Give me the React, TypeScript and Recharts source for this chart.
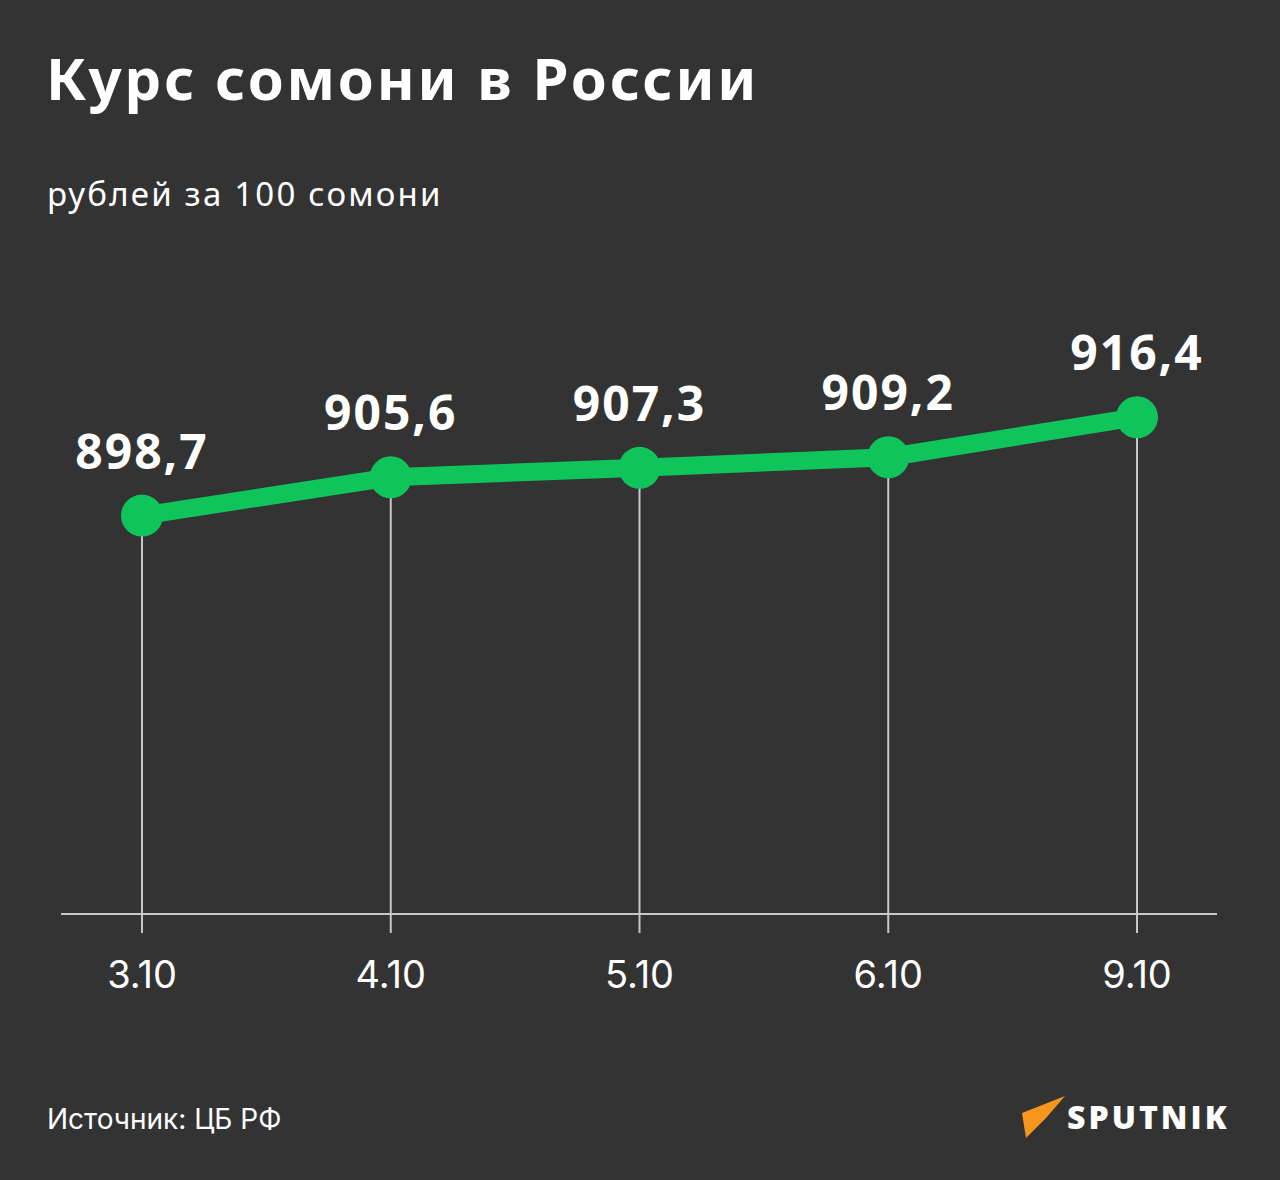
import React from "react";
import { LineChart, Line, XAxis, YAxis, LabelList } from "recharts";

const dates = ["3.10", "4.10", "5.10", "6.10", "9.10"];
const rates = [898.7, 905.6, 907.3, 909.2, 916.4];

const data = dates.map((date, i) => ({ date, rate: rates[i] }));

const BG = "#333333";
const GREEN = "#10c45c";
const GRID = "#c8c8c8";

const W = 1280;
const H = 1180;
const TOP = 340;
const AXIS_Y = 914;
const X_AXIS_H = 60;

const fmt = (v: number) => v.toFixed(1).replace(".", ",");

const Dot = (props: any) => {
  const { cx, cy, index } = props;
  if (cx == null || cy == null) return null;
  return (
    <g key={`dot-${index}`}>
      <line x1={cx} y1={cy} x2={cx} y2={AXIS_Y} stroke={GRID} strokeWidth={2} />
      <circle cx={cx} cy={cy} r={21} fill={GREEN} />
    </g>
  );
};

const ValueLabel = (props: any) => {
  const { x, y, value } = props;
  return (
    <text
      x={x}
      y={y - 47}
      textAnchor="middle"
      fill="#ffffff"
      fontFamily="'Open Sans', sans-serif"
      fontWeight={700}
      fontSize={48}
      letterSpacing={2}
    >
      {fmt(value)}
    </text>
  );
};

export default function App() {
  return (
    <div
      style={{
        position: "absolute",
        left: 0,
        top: 0,
        width: W,
        height: H,
        background: BG,
        overflow: "hidden",
      }}
    >
      <div
        style={{
          position: "absolute",
          left: 46,
          top: 40,
          color: "#fff",
          fontFamily: "'Noto Sans', sans-serif",
          fontWeight: 700,
          fontSize: 58,
          letterSpacing: 2.8,
          lineHeight: "76px",
          whiteSpace: "nowrap",
        }}
      >
        Курс сомони в России
      </div>
      <div
        style={{
          position: "absolute",
          left: 47,
          top: 172,
          color: "#fff",
          fontFamily: "'Noto Sans', sans-serif",
          fontSize: 33,
          letterSpacing: 2.2,
          lineHeight: "44px",
          whiteSpace: "nowrap",
        }}
      >
        рублей за 100 сомони
      </div>

      <div style={{ position: "absolute", left: 0, top: 0 }}>
        <LineChart
          width={W}
          height={H}
          data={data}
          margin={{ top: TOP, right: 63, bottom: H - AXIS_Y - X_AXIS_H, left: 61 }}
        >
          <XAxis
            dataKey="date"
            height={X_AXIS_H}
            padding={{ left: 81, right: 80 }}
            axisLine={{ stroke: GRID, strokeWidth: 2 }}
            tickLine={{ stroke: GRID, strokeWidth: 2 }}
            tickSize={19}
            tickMargin={28}
            interval={0}
            tick={{
              fill: "#ffffff",
              fontSize: 38,
              fontFamily: "Inter, sans-serif",
            }}
          />
          <YAxis hide domain={[827, 930.3]} allowDataOverflow />
          <Line
            type="linear"
            dataKey="rate"
            stroke={GREEN}
            strokeWidth={18}
            dot={<Dot />}
            activeDot={false}
            isAnimationActive={false}
          >
            <LabelList dataKey="rate" content={<ValueLabel />} />
          </Line>
        </LineChart>
      </div>

      <div
        style={{
          position: "absolute",
          left: 47,
          top: 1101,
          color: "#fff",
          fontFamily: "Inter, sans-serif",
          fontSize: 28,
          lineHeight: "36px",
          whiteSpace: "nowrap",
        }}
      >
        Источник: ЦБ РФ
      </div>

      <svg
        width={240}
        height={70}
        style={{ position: "absolute", left: 1010, top: 1080 }}
      >
        <polygon points="12,33 55,16 36,38 16,58" fill="#f7961c" />
        <text
          x={57}
          y={49}
          fill="#ffffff"
          fontFamily="'Open Sans', sans-serif"
          fontWeight={800}
          fontSize={32}
          letterSpacing={3}
        >
          SPUTNIK
        </text>
      </svg>
    </div>
  );
}
